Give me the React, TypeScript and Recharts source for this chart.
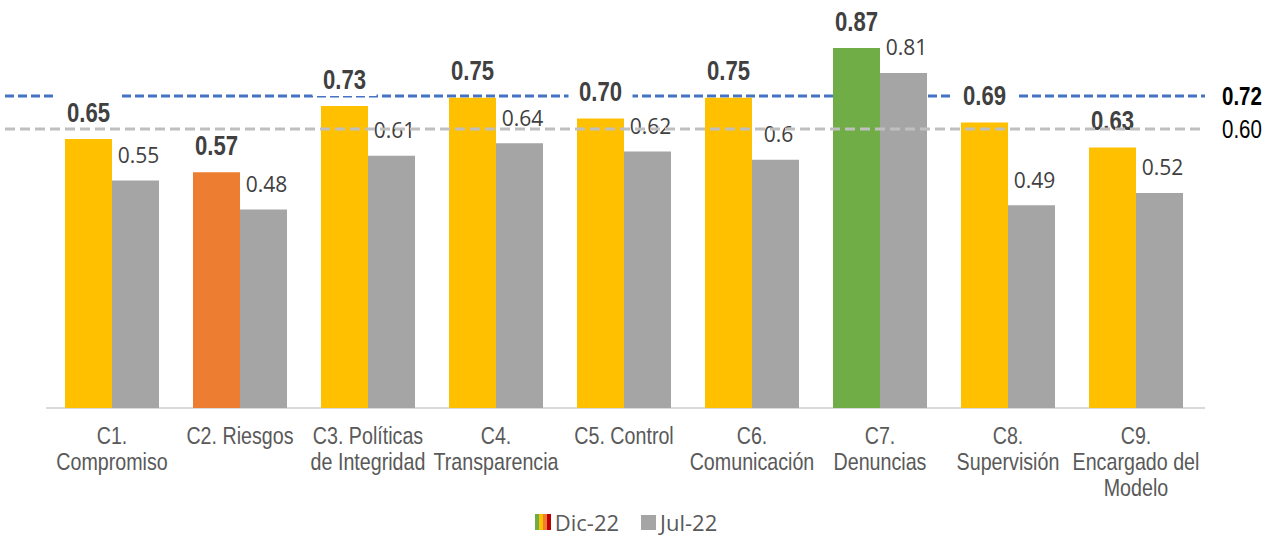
import React from "react";
import {
  BarChart,
  Bar,
  XAxis,
  YAxis,
  Cell,
  LabelList,
  Legend,
  ReferenceLine,
} from "recharts";

// ----------------------------------------
// DATOS
// ----------------------------------------

const categories = [
  "C1.\nCompromiso",
  "C2. Riesgos",
  "C3. Políticas\nde Integridad",
  "C4.\nTransparencia",
  "C5. Control",
  "C6.\nComunicación",
  "C7.\nDenuncias",
  "C8.\nSupervisión",
  "C9.\nEncargado del\nModelo",
];

const dic22 = [0.65, 0.57, 0.73, 0.75, 0.7, 0.75, 0.87, 0.69, 0.63];
const jul22 = [0.55, 0.48, 0.61, 0.64, 0.62, 0.6, 0.81, 0.49, 0.52];

// promedio de cada periodo (lineas punteadas)
const promedioDic = 0.72;
const promedioJul = 0.6;

const seriesNames = ["Dic-22", "Jul-22"];

// colores del semaforo para Dic-22
const YELLOW = "#FFC000";
const ORANGE = "#ED7D31";
const GREEN = "#70AD47";
const RED = "#C00000";
const GRAY = "#A5A5A5";
const dicColors = [YELLOW, ORANGE, YELLOW, YELLOW, YELLOW, YELLOW, GREEN, YELLOW, YELLOW];

// no hay Arial Narrow: Liberation Sans comprimida horizontalmente
const ARIAL = "'Liberation Sans', Arial, sans-serif";
const SANS = "'Open Sans', 'Noto Sans', sans-serif";
const narrow = (x: number) => `translate(${x} 0) scale(0.82 1) translate(${-x} 0)`;

const data = categories.map((name, i) => ({
  name,
  dic: dic22[i],
  jul: jul22[i],
}));

const CategoryTick = (props: any) => {
  const { x, y, payload } = props;
  const lines = String(payload.value).split("\n");
  return (
    <text x={x} y={y} textAnchor="middle" fill="#595959" fontSize={24} fontFamily={ARIAL} transform={narrow(x)}>
      {lines.map((line, i) => (
        <tspan key={i} x={x} dy={i === 0 ? 28 : 26}>
          {line}
        </tspan>
      ))}
    </text>
  );
};

const DicLabel = (props: any) => {
  const { x, y, width, value } = props;
  const cx = x + width / 2;
  const cy = y - 27;
  return (
    <g>
      <rect x={cx - 32} y={cy - 21} width={64} height={38} fill="#fff" />
      <text x={cx} y={cy} dy="0.36em" textAnchor="middle" fontWeight="bold" fontSize={27} fill="#404040" fontFamily={ARIAL} transform={narrow(cx)}>
        {Number(value).toFixed(2)}
      </text>
    </g>
  );
};

const JulLabel = (props: any) => {
  const { x, y, width, value } = props;
  const text = String(value);
  const cx = x + width / 2 + 3;
  const cy = y - 25;
  const half = (text.length * 10.5) / 2 + 4;
  return (
    <g>
      <rect x={cx - half} y={cy - 16} width={half * 2} height={y - 7 - (cy - 16)} fill="#fff" />
      <text x={cx} y={cy} dy="0.36em" textAnchor="middle" fontSize={21} fill="#404040" fontFamily={SANS}>
        {text}
      </text>
    </g>
  );
};

const RefLabel = (bold: boolean, text: string) => (props: any) => {
  const { viewBox } = props;
  const x = viewBox.x + viewBox.width + 17;
  const y = viewBox.y;
  return (
    <text x={x} y={y} dy="0.36em" textAnchor="start" fontSize={25} fontWeight={bold ? "bold" : "normal"} fill="#000" fontFamily={ARIAL} transform={narrow(x)}>
      {text}
    </text>
  );
};

const LegendContent = () => (
  <div style={{ display: "flex", justifyContent: "center", alignItems: "center", fontFamily: SANS, fontSize: 22, lineHeight: "26px", color: "#595959", paddingLeft: 42, paddingTop: 19 }}>
    <svg width={16} height={16} style={{ marginRight: 4 }}>
      <rect x={0} y={0} width={4} height={16} fill={GREEN} />
      <rect x={4} y={0} width={4} height={16} fill={YELLOW} />
      <rect x={8} y={0} width={4} height={16} fill={ORANGE} />
      <rect x={12} y={0} width={4} height={16} fill={RED} />
    </svg>
    <span style={{ marginRight: 22 }}>{seriesNames[0]}</span>
    <svg width={15} height={15} style={{ marginRight: 4 }}>
      <rect x={0} y={0} width={15} height={15} fill={GRAY} />
    </svg>
    <span>{seriesNames[1]}</span>
  </div>
);

export default function App() {
  return (
    <div style={{ position: "absolute", left: 0, top: 0, width: 1280, height: 536, background: "#fff" }}>
      <BarChart
        width={1280}
        height={536}
        data={data}
        margin={{ top: 15, right: 75, left: 5, bottom: 0 }}
        barGap={0}
      >
        <XAxis
          dataKey="name"
          axisLine={false}
          tickLine={false}
          interval={0}
          height={82}
          padding={{ left: 43, right: 5 }}
          tick={<CategoryTick />}
        />
        <YAxis hide domain={[0, 0.95]} />
        <YAxis hide yAxisId="ref" type="number" allowDataOverflow domain={[-0.4145, 1.0145]} />

        <ReferenceLine
          y={promedioDic}
          yAxisId="ref"
          ifOverflow="visible"
          stroke="#4472C4"
          strokeWidth={3}
          strokeDasharray="9 4"
          zIndex={250}
          label={RefLabel(true, promedioDic.toFixed(2))}
        />
        <ReferenceLine
          y={0}
          stroke="#D9D9D9"
          strokeWidth={2}
          zIndex={250}
          shape={(p: any) => (
            <line x1={p.x1 + 41} y1={p.y1} x2={p.x2} y2={p.y2} stroke="#D9D9D9" strokeWidth={2} />
          )}
        />

        <Bar dataKey="dic" name={seriesNames[0]} barSize={47} isAnimationActive={false}>
          {data.map((d, i) => (
            <Cell key={`dic-${i}`} fill={dicColors[i]} />
          ))}
          <LabelList dataKey="dic" content={<DicLabel />} />
        </Bar>
        <Bar dataKey="jul" name={seriesNames[1]} barSize={47} fill={GRAY} isAnimationActive={false}>
          <LabelList dataKey="jul" content={<JulLabel />} />
        </Bar>

        <ReferenceLine
          y={promedioJul}
          yAxisId="ref"
          ifOverflow="visible"
          stroke="#BFBFBF"
          strokeWidth={3}
          strokeDasharray="10 5"
          zIndex={2100}
          label={RefLabel(false, promedioJul.toFixed(2))}
        />

        <Legend verticalAlign="bottom" height={46} content={<LegendContent />} />
      </BarChart>
    </div>
  );
}
